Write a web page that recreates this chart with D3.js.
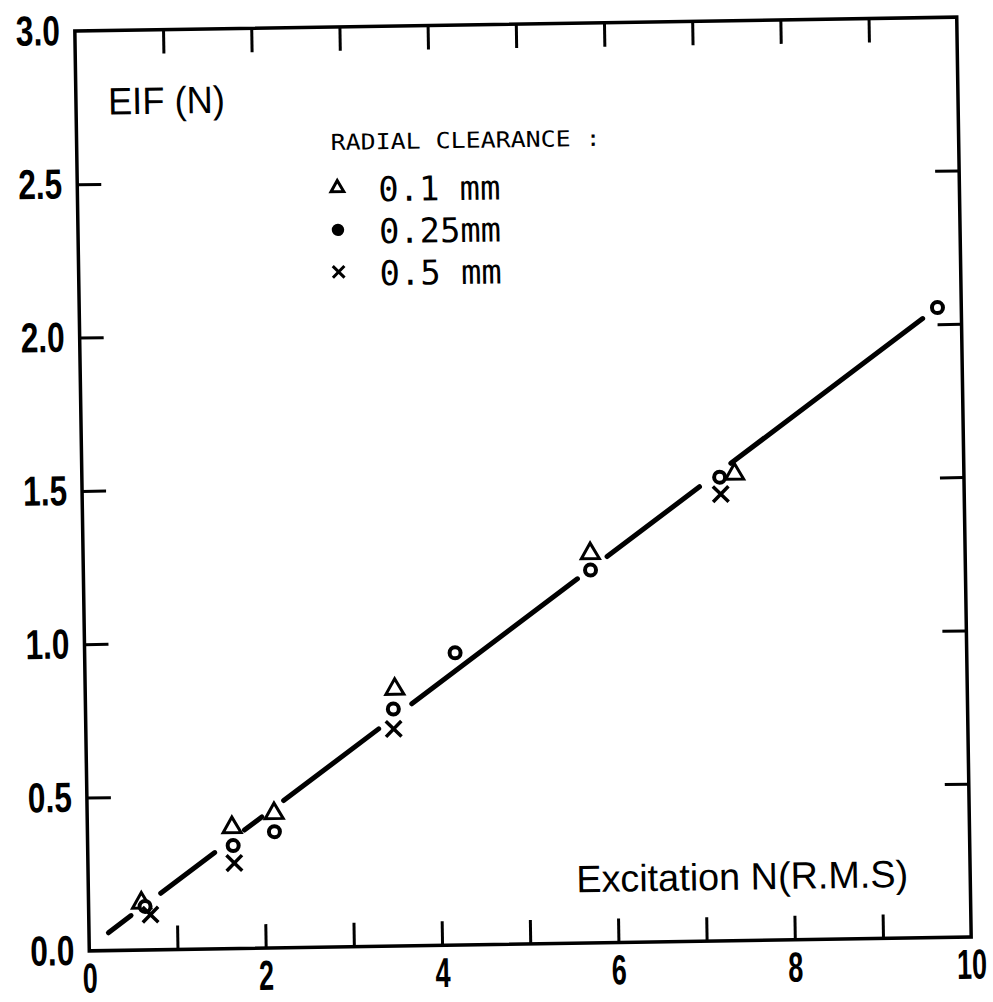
<!DOCTYPE html>
<html>
<head>
<meta charset="utf-8">
<style>
body { margin: 0; background: #fff; }
svg { display: block; }
.tick-label text { font-family: "Liberation Sans", sans-serif; font-weight: bold; fill: #000; }
.ticks line { stroke: #000; stroke-width: 3px; }
.note { font-family: "Liberation Sans", sans-serif; fill: #000; }
.mono { font-family: "DejaVu Sans Mono", "Liberation Mono", monospace; fill: #000; }
</style>
<script src="https://cdn.jsdelivr.net/npm/d3@7"></script>
</head>
<body>
<div id="chart"></div>
<script>

// values
var xTickVals = [1, 2, 3, 4, 5, 6, 7, 8, 9];
var yTickVals = [0.5, 1.0, 1.5, 2.0, 2.5];
var xLabelVals = [0, 2, 4, 6, 8, 10];
var yLabelVals = [0, 0.5, 1.0, 1.5, 2.0, 2.5, 3.0];

// radial clearance 0.1 mm (triangles)
var clear01 = [[0.60, 0.154], [1.64, 0.395], [2.12, 0.439], [3.51, 0.838], [5.75, 1.27], [7.40, 1.522]];
// radial clearance 0.25 mm (dots)
var clear025 = [[0.64, 0.142], [1.65, 0.336], [2.12, 0.379], [3.49, 0.773], [4.20, 0.953], [5.75, 1.216], [7.23, 1.512], [9.73, 2.054]];
// radial clearance 0.5 mm (crosses)
var clear05 = [[0.70, 0.115], [1.66, 0.279], [3.49, 0.708], [7.24, 1.457]];

// fitted line, drawn broken around the points
var fitSegments = [
  [[0.22, 0.058], [0.48, 0.113]],
  [[0.82, 0.184], [1.44, 0.314]],
  [[1.78, 0.386], [1.98, 0.428]],
  [[2.23, 0.480], [3.32, 0.709]],
  [[3.70, 0.789], [5.60, 1.188]],
  [[5.94, 1.259], [7.00, 1.482]],
  [[7.36, 1.557], [9.56, 2.019]]
];

var legendItems = ["0.1 mm", "0.25mm", "0.5 mm"];

var width = 993, height = 1002;
var pLeft = 82, pRight = 964, pTop = 24, pBottom = 944;

var svg = d3.select("#chart").append("svg")
    .attr("width", width)
    .attr("height", height);

// the scanned figure sits slightly rotated on the page
var g = svg.append("g")
    .attr("transform", "rotate(-0.9, 523.5, 483.5)");

var x = d3.scaleLinear().domain([0, 10]).range([pLeft, pRight]);
var y = d3.scaleLinear().domain([0, 3]).range([pBottom, pTop]);

// frame
g.append("rect")
    .attr("x", pLeft).attr("y", pTop)
    .attr("width", pRight - pLeft).attr("height", pBottom - pTop)
    .attr("fill", "none").attr("stroke", "#000").attr("stroke-width", 3.5);

// inward ticks on all four sides
function ticksOnly(axis, tx, ty) {
  var a = g.append("g").attr("class", "ticks")
      .attr("transform", "translate(" + tx + "," + ty + ")")
      .call(axis.tickSize(-24).tickFormat(""));
  a.select(".domain").remove();
}
ticksOnly(d3.axisBottom(x).tickValues(xTickVals), 0, pBottom);
ticksOnly(d3.axisTop(x).tickValues(xTickVals), 0, pTop);
ticksOnly(d3.axisLeft(y).tickValues(yTickVals), pLeft, 0);
ticksOnly(d3.axisRight(y).tickValues(yTickVals), pRight, 0);

// tick labels (narrow plotter digits)
var xl = g.append("g").attr("class", "tick-label")
    .attr("transform", "translate(0," + pBottom + ")")
    .call(d3.axisBottom(x).tickValues(xLabelVals).tickSize(0).tickPadding(12).tickFormat(d3.format("d")));
xl.select(".domain").remove();
xl.selectAll("text")
    .style("font-size", "42px")
    .attr("textLength", function(d) { return String(d).length * 15; })
    .attr("lengthAdjust", "spacingAndGlyphs");

var yl = g.append("g").attr("class", "tick-label")
    .attr("transform", "translate(" + pLeft + ",0)")
    .call(d3.axisLeft(y).tickValues(yLabelVals).tickSize(0).tickPadding(15).tickFormat(d3.format(".1f")));
yl.select(".domain").remove();
yl.selectAll("text")
    .style("font-size", "42px")
    .attr("textLength", 44)
    .attr("lengthAdjust", "spacingAndGlyphs");

// fit line
var line = d3.line().x(function(d) { return x(d[0]); }).y(function(d) { return y(d[1]); });
g.append("g").selectAll("path")
  .data(fitSegments)
  .enter().append("path")
    .attr("d", line)
    .attr("fill", "none")
    .attr("stroke", "#000")
    .attr("stroke-width", 5)
    .attr("stroke-linecap", "round");

// markers
var triSym = d3.symbol().type(d3.symbolTriangle).size(140);
var crossSym = d3.symbol().type(d3.symbolTimes).size(160);

g.append("g").selectAll("path")
  .data(clear01)
  .enter().append("path")
    .attr("d", triSym)
    .attr("transform", function(d) { return "translate(" + x(d[0]) + "," + y(d[1]) + ")"; })
    .attr("fill", "#fff").attr("stroke", "#000").attr("stroke-width", 3);

g.append("g").selectAll("circle")
  .data(clear025)
  .enter().append("circle")
    .attr("cx", function(d) { return x(d[0]); })
    .attr("cy", function(d) { return y(d[1]); })
    .attr("r", 5.5)
    .attr("fill", "#fff").attr("stroke", "#000").attr("stroke-width", 4);

g.append("g").selectAll("path")
  .data(clear05)
  .enter().append("path")
    .attr("d", crossSym)
    .attr("transform", function(d) { return "translate(" + x(d[0]) + "," + y(d[1]) + ")"; })
    .attr("fill", "none").attr("stroke", "#000").attr("stroke-width", 3.5);

// annotations
g.append("text").attr("class", "note")
    .attr("x", 114).attr("y", 108)
    .attr("font-size", 38)
    .attr("textLength", 117).attr("lengthAdjust", "spacingAndGlyphs")
    .text("EIF (N)");

g.append("text").attr("class", "note")
    .attr("x", 570).attr("y", 893)
    .attr("font-size", 38)
    .attr("textLength", 332).attr("lengthAdjust", "spacingAndGlyphs")
    .text("Excitation N(R.M.S)");

// legend
g.append("text").attr("class", "mono")
    .attr("x", 336).attr("y", 147)
    .attr("font-size", 22)
    .attr("textLength", 270).attr("lengthAdjust", "spacingAndGlyphs")
    .text("RADIAL CLEARANCE :");

var leg = g.append("g").selectAll("g")
  .data(legendItems)
  .enter().append("g")
    .attr("transform", function(d, i) { return "translate(342," + (185 + 42 * i) + ")"; });

leg.append("path")
    .attr("d", function(d, i) {
      if (i === 0) return d3.symbol().type(d3.symbolTriangle).size(70)();
      if (i === 2) return d3.symbol().type(d3.symbolTimes).size(90)();
      return d3.symbol().type(d3.symbolCircle).size(70)();
    })
    .attr("fill", function(d, i) { return i === 1 ? "#000" : "none"; })
    .attr("stroke", "#000")
    .attr("stroke-width", 3);

leg.append("text").attr("class", "mono")
    .attr("x", 41).attr("y", 14)
    .attr("font-size", 34)
    .attr("textLength", 122).attr("lengthAdjust", "spacingAndGlyphs")
    .text(function(d) { return d; });

</script>
</body>
</html>
